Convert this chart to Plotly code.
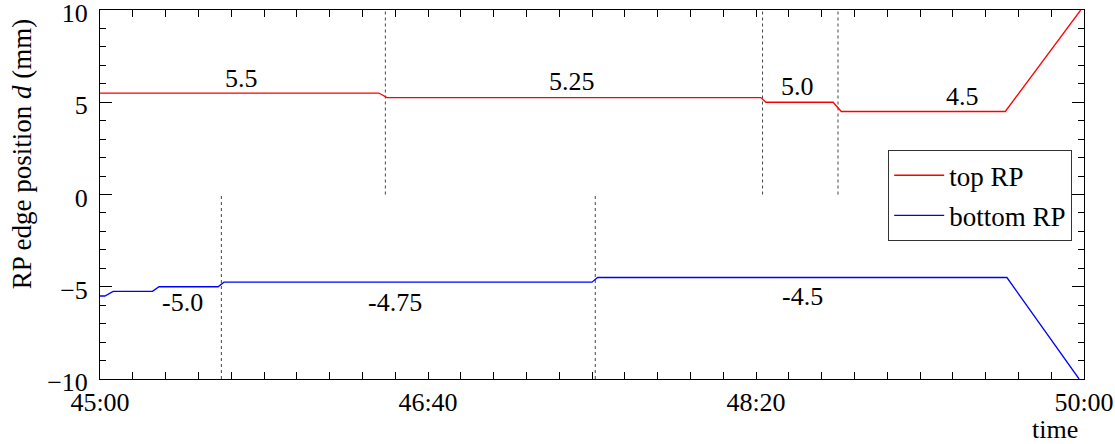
import plotly.graph_objects as go

# ---- data (seconds after 45:00, mm) ----
t_top = [0, 85, 87.5, 201.5, 203, 223.5, 226, 276, 299]
d_top = [5.5, 5.5, 5.25, 5.25, 5.0, 5.0, 4.5, 4.5, 10]

t_bottom = [0, 1.5, 4, 16, 18, 36, 37.8, 150, 151.7, 276.5, 298.5]
d_bottom = [-5.5, -5.5, -5.25, -5.25, -5.0, -5.0, -4.75, -4.75, -4.5, -4.5, -10]

top_marks = [87, 202, 225]
bottom_marks = [37, 151]

label_text = ["5.5", "5.25", "5.0", "4.5", "-5.0", "-4.75", "-4.5"]
label_t = [43, 144, 212.5, 263, 25.3, 90, 214.3]
label_d = [6.3, 6.1, 5.85, 5.3, -5.85, -5.85, -5.55]

x_tickvals = [0, 100, 200, 300]
x_ticktext = ["45:00", "46:40", "48:20", "50:00"]
y_tickvals = [-10, -5, 0, 5, 10]
y_ticktext = ["\u221210", "\u22125", "0", "5", "10"]

FONT = "Liberation Serif"
FS = 26

fig = go.Figure()

# dotted marker lines
for t in top_marks:
    fig.add_trace(go.Scatter(x=[t, t], y=[0, 10], mode="lines", showlegend=False,
                             line=dict(color="#444444", width=1, dash="dot"), hoverinfo="skip"))
for t in bottom_marks:
    fig.add_trace(go.Scatter(x=[t, t], y=[-10, 0], mode="lines", showlegend=False,
                             line=dict(color="#444444", width=1, dash="dot"), hoverinfo="skip"))

fig.add_trace(go.Scatter(x=t_top, y=d_top, mode="lines", name="top RP",
                         line=dict(color="#ff0000", width=1.3), legendgroup="a"))
fig.add_trace(go.Scatter(x=t_bottom, y=d_bottom, mode="lines", name="bottom RP",
                         line=dict(color="#0000ff", width=1.3), legendgroup="b"))

for txt, tx, dy in zip(label_text, label_t, label_d):
    fig.add_annotation(x=tx, y=dy, text=txt, showarrow=False,
                       font=dict(family=FONT, size=FS, color="black"))

fig.add_annotation(xref="paper", yref="paper", x=0.996, y=-0.138, xanchor="right", yanchor="middle",
                   text="time", showarrow=False, font=dict(family=FONT, size=FS, color="black"))
fig.add_annotation(xref="paper", yref="paper", x=-0.079, y=0.61, xanchor="center", yanchor="middle",
                   textangle=-90, text="RP edge position <i>d</i> (mm)", showarrow=False,
                   font=dict(family=FONT, size=27, color="black"))

fig.update_xaxes(range=[0, 300], tickvals=x_tickvals, ticktext=x_ticktext, automargin=False,
                 ticklabeloverflow="allow",
                 showgrid=False, zeroline=False, showline=True, linecolor="black", linewidth=1,
                 mirror="ticks", ticks="inside", ticklen=7, tickcolor="black",
                 minor=dict(dtick=10, ticks="inside", ticklen=7, tickcolor="black", showgrid=False),
                 tickfont=dict(family=FONT, size=FS, color="black"))
fig.update_yaxes(range=[-10, 10], tickvals=y_tickvals, ticktext=y_ticktext, automargin=False,
                 ticklabeloverflow="allow", ticklabelstandoff=6, ticklabelshift=3,
                 showgrid=False, zeroline=False, showline=True, linecolor="black", linewidth=1,
                 mirror="ticks", ticks="inside", ticklen=12, tickcolor="black",
                 minor=dict(dtick=1, ticks="inside", ticklen=6, tickcolor="black", showgrid=False),
                 tickfont=dict(family=FONT, size=FS, color="black"))

fig.update_layout(
    width=1115, height=444,
    margin=dict(l=100, r=31, t=10, b=65),
    paper_bgcolor="white", plot_bgcolor="white",
    showlegend=True,
    legend=dict(x=0.801, y=0.62, xanchor="left", yanchor="top",
                bordercolor="#333333", borderwidth=1, bgcolor="white",
                font=dict(family=FONT, size=27, color="black"),
                tracegroupgap=2, itemwidth=50),
)

fig.write_html("out.html", config={"displayModeBar": False},
               post_script="document.body.style.margin='0';document.body.style.overflow='hidden';")
